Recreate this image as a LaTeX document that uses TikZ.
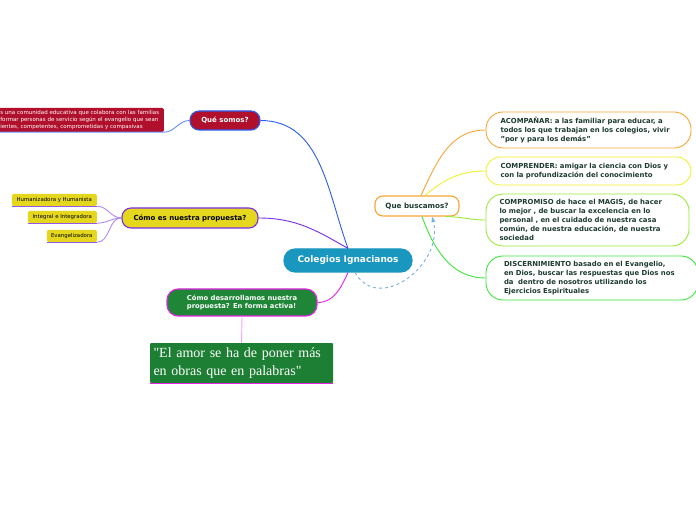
\documentclass[tikz,border=0pt]{standalone}
\usepackage{fontspec}
\usepackage{xcolor}
\usepackage{tikz}
\setmainfont{DejaVu Sans}
\newfontfamily\quotefont{Liberation Serif}

\definecolor{coleblue}{HTML}{1A97BF}
\definecolor{somosred}{HTML}{B0102C}
\definecolor{lineblue}{HTML}{2B5BF0}
\definecolor{propyellow}{HTML}{E5D71E}
\definecolor{proppurple}{HTML}{7A2EE0}
\definecolor{lightpurple}{HTML}{B08CF2}
\definecolor{actgreen}{HTML}{1E8636}
\definecolor{actmagenta}{HTML}{E524E5}
\definecolor{lightmagenta}{HTML}{F4A6F4}
\definecolor{buscorange}{HTML}{F7A535}
\definecolor{buscyellow}{HTML}{F2F030}
\definecolor{busclime}{HTML}{9AEB38}
\definecolor{buscgreen}{HTML}{3CE63C}
\definecolor{darktext}{HTML}{1E3B30}
\definecolor{relblue}{HTML}{74AEEA}

\begin{document}
\begin{tikzpicture}[x=1pt, y=1pt,
  topic/.style={draw, line width=1.1pt, rounded corners=9pt, inner sep=0pt, align=center},
  idea/.style={draw, fill=white, line width=0.9pt, inner sep=0pt, text=darktext, align=left,
    text width=176pt, font=\bfseries\fontsize{6.9}{9}\selectfont},
  leaf/.style={fill=propyellow, rounded corners=1.5pt, inner sep=0pt, minimum height=12pt,
    font=\fontsize{5.4}{6}\selectfont},
  link/.style={line width=0.9pt}]
\clip (0,0) rectangle (696,520);
\fill[white] (0,0) rectangle (696,520);

% Central topic
\node[topic, fill=coleblue, draw=coleblue, text=white, minimum width=128pt, minimum height=23pt,
  rounded corners=11pt, font=\bfseries\fontsize{9}{10}\selectfont] (cole) at (348,259.5) {Colegios Ignacianos};

% Que somos
\node[topic, fill=somosred, draw=lineblue, text=white, minimum width=70pt, minimum height=19pt,
  font=\bfseries\fontsize{7}{8}\selectfont] (somos) at (225,399.5) {Qué somos?};
\node[fill=somosred, rounded corners=1.5pt, anchor=east, text=white, align=left, text width=162pt,
  minimum height=24pt, inner sep=1.5pt, font=\fontsize{5.5}{7}\selectfont] (somostxt) at (164,400)
  {s una comunidad educativa que colabora con las familias\\
   formar personas de servicio según el evangelio que sean\\
   ientes, competentes, comprometidas y compasivas};
\draw[link, lineblue] (cole.north) to[out=110, in=0] (somos.east);
\draw[link, lineblue!70] (somos.west) to[out=180, in=0] (somostxt.south east) -- (somostxt.south west);

% Como es nuestra propuesta
\node[topic, fill=propyellow, draw=proppurple, minimum width=136pt, minimum height=20pt,
  font=\bfseries\fontsize{7}{8}\selectfont] (comoes) at (190,302) {Cómo es nuestra propuesta?};
\node[leaf, anchor=east, minimum width=85pt] (huma) at (97,320) {Humanizadora y Humanista};
\node[leaf, anchor=east, minimum width=69pt] (integ) at (97,303) {Integral e Integradora};
\node[leaf, anchor=east, minimum width=50pt] (evang) at (97,284) {Evangelizadora};
\draw[link, proppurple] (cole.north) to[out=150, in=0] (comoes.east);
\foreach \n in {huma, integ, evang} {
  \draw[link, lightpurple] (comoes.west) to[out=180, in=0] (\n.south east);
  \draw[line width=1.3pt, proppurple!80] (\n.south west) -- (\n.south east);
}

% Como desarrollamos
\node[topic, fill=actgreen, draw=actmagenta, text=white, minimum width=150pt, minimum height=27pt,
  rounded corners=11pt, align=left, font=\bfseries\fontsize{6.8}{8.5}\selectfont] (cdes) at (242,217.5)
  {Cómo desarrollamos nuestra\\propuesta? En forma activa!};
\node[fill=actgreen!95!black, rounded corners=1pt, text=white, align=left, text width=176pt,
  minimum width=183pt, minimum height=40pt, inner sep=0pt, font=\quotefont\fontsize{14}{18}\selectfont]
  (quote) at (241.5,157) {"El amor se ha de poner más\\en obras que en palabras"};
\draw[link, actmagenta] (cole.south) to[out=245, in=0] (cdes.east);
\draw[link, lightmagenta] (cdes.south) -- (quote.north);
\draw[line width=1.3pt, actmagenta] (quote.south west) -- (quote.south east);

% Que buscamos
\node[topic, fill=white, draw=buscorange, text=darktext, minimum width=84pt, minimum height=20pt,
  rounded corners=8pt, font=\bfseries\fontsize{7.2}{8}\selectfont] (busc) at (417,314) {Que buscamos?};

\node[idea, draw=buscorange, minimum width=205pt, minimum height=36pt, rounded corners=17pt] (acom) at (588.5,390)
  {ACOMPAÑAR: a las familiar para educar, a\\todos los que trabajan en los colegios, vivir\\"por y para los demás"};
\node[idea, draw=buscyellow, minimum width=205pt, minimum height=28pt, rounded corners=14pt] (compr) at (588.5,349)
  {COMPRENDER: amigar la ciencia con Dios y\\con la profundización del conocimiento};
\node[idea, draw=busclime, minimum width=203pt, minimum height=52pt, rounded corners=17pt] (compro) at (587.5,300)
  {COMPROMISO de hace el MAGIS, de hacer\\lo mejor , de buscar la excelencia en lo\\personal , en el cuidado de nuestra casa\\común, de nuestra educación, de nuestra\\sociedad};
\node[idea, draw=buscgreen, minimum width=212pt, minimum height=44pt, rounded corners=17pt] (disc) at (592,242)
  {DISCERNIMIENTO basado en el Evangelio,\\en Dios, buscar las respuestas que Dios nos\\da\ \ dentro de nosotros utilizando los\\Ejercicios Espirituales};

\draw[link, buscorange] ([xshift=4pt]busc.north) to[out=65, in=180] (acom.west);
\draw[link, buscyellow] ([xshift=8pt]busc.north) to[out=40, in=180] (compr.west);
\draw[link, busclime] ([xshift=28pt]busc.south) to[out=0, in=180] (compro.west);
\draw[link, buscgreen] ([xshift=5pt]busc.south) to[out=-70, in=180] (disc.west);

% Relationship
\draw[relblue, line width=0.9pt, dashed, -latex] ([xshift=7pt]cole.south) to[out=-60, in=-75, looseness=1.3] ([xshift=15pt]busc.south);

\end{tikzpicture}
\end{document}
